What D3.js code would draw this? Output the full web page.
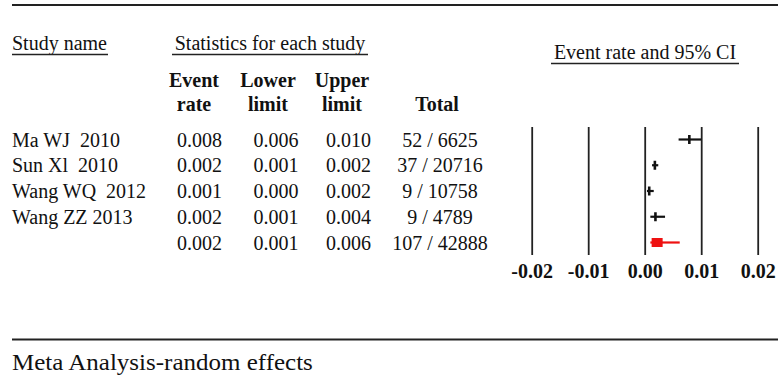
<!DOCTYPE html>
<html>
<head>
<meta charset="utf-8">
<script src="https://cdn.jsdelivr.net/npm/d3@7"></script>
<style>
  body { margin: 0; background: #fff; }
  text { font-family: "Liberation Serif", "Times New Roman", serif; fill: #111; white-space: pre; }
</style>
</head>
<body>
<script>
// study rows
var studies = ['Ma WJ  2010', 'Sun Xl  2010', 'Wang WQ  2012', 'Wang ZZ 2013', ''];
var eventRate = [0.0079, 0.0018, 0.0008, 0.0019, 0.0022];
var lowerLimit = [0.0060, 0.0013, 0.0004, 0.0010, 0.0010];
var upperLimit = [0.0100, 0.0024, 0.0016, 0.0036, 0.0062];
var totals = ['52 / 6625', '37 / 20716', '9 / 10758', '9 / 4789', '107 / 42888'];
var isSummary = [false, false, false, false, true];

var tickValues = [-0.02, -0.01, 0, 0.01, 0.02];
var tickLabels = ['-0.02', '-0.01', '0.00', '0.01', '0.02'];

var width = 778,
	height = 386;

var svg = d3.select('body').append('svg')
	.attr('width', width)
	.attr('height', height);

var x = d3.scaleLinear().domain([-0.02, 0.02]).range([531.7, 757.7]);
var y = d3.scalePoint().domain(d3.range(studies.length)).range([139.5, 242.5]);
var fmt = d3.format('.3f');

// top and bottom rules
svg.append('line')
	.attr('x1', 12).attr('x2', width)
	.attr('y1', 5).attr('y2', 5)
	.style('stroke', '#222').style('stroke-width', 2.2);

svg.append('line')
	.attr('x1', 12).attr('x2', width)
	.attr('y1', 339.5).attr('y2', 339.5)
	.style('stroke', '#222').style('stroke-width', 2);

// underlined group headers
function header(txt, cx, by, x1, x2, anchor) {
	svg.append('text')
		.attr('x', cx).attr('y', by)
		.attr('text-anchor', anchor)
		.style('font-size', '20px')
		.text(txt);
	svg.append('line')
		.attr('x1', x1).attr('x2', x2)
		.attr('y1', by + 4.5).attr('y2', by + 4.5)
		.style('stroke', '#222').style('stroke-width', 1.3);
}
header('Study name', 12, 50, 12, 108, 'start');
header('Statistics for each study', 270, 50, 172, 368, 'middle');
header('Event rate and 95% CI', 645, 59, 551, 739, 'middle');

// column headers (bold)
var colHead = [
	{ l1: 'Event', l2: 'rate', x: 194 },
	{ l1: 'Lower', l2: 'limit', x: 268 },
	{ l1: 'Upper', l2: 'limit', x: 342 },
	{ l1: '', l2: 'Total', x: 437 }
];
colHead.forEach(function(h) {
	svg.append('text')
		.attr('x', h.x).attr('y', 87)
		.attr('text-anchor', 'middle')
		.style('font-size', '20px').style('font-weight', 'bold')
		.text(h.l1);
	svg.append('text')
		.attr('x', h.x).attr('y', 110.5)
		.attr('text-anchor', 'middle')
		.style('font-size', '20px').style('font-weight', 'bold')
		.text(h.l2);
});

// table rows
var rows = svg.selectAll('.row')
	.data(d3.range(studies.length))
	.enter().append('g')
	.attr('class', 'row')
	.attr('transform', function(i) { return 'translate(0,' + (y(i) + 7) + ')'; });

rows.append('text').attr('x', 12).style('font-size', '20px')
	.text(function(i) { return studies[i]; });
rows.append('text').attr('x', 199.5).attr('text-anchor', 'middle').style('font-size', '20px')
	.text(function(i) { return fmt(eventRate[i]); });
rows.append('text').attr('x', 276).attr('text-anchor', 'middle').style('font-size', '20px')
	.text(function(i) { return fmt(lowerLimit[i]); });
rows.append('text').attr('x', 348.5).attr('text-anchor', 'middle').style('font-size', '20px')
	.text(function(i) { return fmt(upperLimit[i]); });
rows.append('text').attr('x', 440).attr('text-anchor', 'middle').style('font-size', '20px')
	.text(function(i) { return totals[i]; });

// vertical reference lines + tick labels
var axisG = svg.append('g')
	.attr('transform', 'translate(0,255)')
	.call(d3.axisBottom(x)
		.tickValues(tickValues)
		.tickFormat(function(d, i) { return tickLabels[i]; })
		.tickSizeInner(-128)
		.tickSizeOuter(0)
		.tickPadding(9));
axisG.select('.domain').remove();
axisG.selectAll('.tick line').style('stroke', '#222').style('stroke-width', 1.8);
axisG.selectAll('.tick text')
	.style('font-family', '"Liberation Serif", "Times New Roman", serif')
	.style('font-size', '20px').style('font-weight', 'bold').style('fill', '#111');

// CI bars and point markers
var marks = svg.selectAll('.mark')
	.data(d3.range(studies.length))
	.enter().append('g')
	.attr('class', 'mark');

marks.append('line')
	.attr('x1', function(i) { return x(lowerLimit[i]); })
	.attr('x2', function(i) { return x(upperLimit[i]); })
	.attr('y1', function(i) { return y(i); })
	.attr('y2', function(i) { return y(i); })
	.style('stroke', function(i) { return isSummary[i] ? '#ee1111' : '#111'; })
	.style('stroke-width', 2.2);

marks.filter(function(i) { return !isSummary[i]; })
	.append('line')
	.attr('x1', function(i) { return x(eventRate[i]); })
	.attr('x2', function(i) { return x(eventRate[i]); })
	.attr('y1', function(i) { return y(i) - 4.5; })
	.attr('y2', function(i) { return y(i) + 4.5; })
	.style('stroke', '#111')
	.style('stroke-width', 2.6);

marks.filter(function(i) { return isSummary[i]; })
	.append('rect')
	.attr('x', function(i) { return x(eventRate[i]) - 5.5; })
	.attr('y', function(i) { return y(i) - 4.5; })
	.attr('width', 11)
	.attr('height', 9)
	.style('fill', '#ee1111');

// footer, stretched a little to the width seen in the picture
var foot = svg.append('text')
	.attr('x', 0).attr('y', 0)
	.style('font-size', '23px')
	.text('Meta Analysis-random effects');
var fw = foot.node().getComputedTextLength();
foot.attr('transform', 'translate(12,370) scale(' + (301 / fw) + ',1)');
</script>
</body>
</html>
